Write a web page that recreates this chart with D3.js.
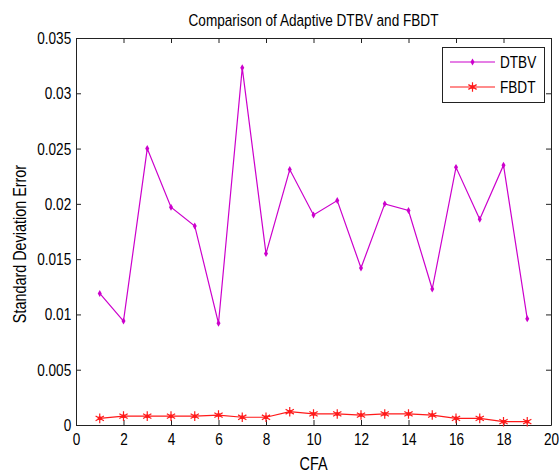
<!DOCTYPE html>
<html>
<head>
<meta charset="utf-8">
<script src="https://cdn.jsdelivr.net/npm/d3@7"></script>
<style>
  html, body { margin: 0; padding: 0; background: #fff; }
  svg text { font-family: "Liberation Sans", Arial, sans-serif; fill: #000; }
</style>
</head>
<body>
<svg id="chart" width="559" height="476"></svg>
<script>
// CFA index along the x axis
const cfa = [1, 2, 3, 4, 5, 6, 7, 8, 9, 10, 11, 12, 13, 14, 15, 16, 17, 18, 19];
// Standard deviation error for each method
const dtbv = [0.0119, 0.0094, 0.0250, 0.0197, 0.0180, 0.0092, 0.0323, 0.0155, 0.0231, 0.0190,
              0.0203, 0.0142, 0.0200, 0.0194, 0.0123, 0.0233, 0.0186, 0.0235, 0.0096];
const fbdt = [0.0006, 0.0008, 0.0008, 0.0008, 0.0008, 0.0009, 0.0007, 0.0007, 0.0012, 0.0010,
              0.0010, 0.0009, 0.0010, 0.0010, 0.0009, 0.0006, 0.0006, 0.0003, 0.0003];
const xTicks = [0, 2, 4, 6, 8, 10, 12, 14, 16, 18, 20];
const yTicks = [0, 0.005, 0.01, 0.015, 0.02, 0.025, 0.03, 0.035];
const seriesNames = ["DTBV", "FBDT"];

const svg = d3.select("#chart");
const plot = { left: 76, top: 38, right: 551, bottom: 425 };

const x = d3.scaleLinear().domain([0, 20]).range([plot.left, plot.right]);
const y = d3.scaleLinear().domain([0, 0.035]).range([plot.bottom, plot.top]);

const axisColor = "#222";
const squeeze = 0.8; // condensed lettering
const yFmt = d => d === 0 ? "0" : String(+d.toFixed(3));

// Condensed text placed at (px, py)
function narrowText(sel, px, py, str, size, anchor, rot) {
  return sel.append("text")
    .attr("transform", `translate(${px},${py})${rot ? ` rotate(${rot})` : ""} scale(${squeeze},1)`)
    .attr("text-anchor", anchor).attr("font-size", size).text(str);
}

// Axes with inward ticks, box on all four sides
const gBottom = svg.append("g").attr("transform", `translate(0,${plot.bottom})`)
  .call(d3.axisBottom(x).tickValues(xTicks).tickSizeInner(-5).tickSizeOuter(0).tickPadding(8));
const gTop = svg.append("g").attr("transform", `translate(0,${plot.top})`)
  .call(d3.axisTop(x).tickValues(xTicks).tickSizeInner(-5).tickSizeOuter(0).tickFormat(""));
const gLeft = svg.append("g").attr("transform", `translate(${plot.left},0)`)
  .call(d3.axisLeft(y).tickValues(yTicks).tickSizeInner(-5).tickSizeOuter(0).tickPadding(6).tickFormat(yFmt));
const gRight = svg.append("g").attr("transform", `translate(${plot.right},0)`)
  .call(d3.axisRight(y).tickValues(yTicks).tickSizeInner(-5).tickSizeOuter(0).tickFormat(""));

[gBottom, gTop, gLeft, gRight].forEach(g => {
  g.select(".domain").attr("stroke", axisColor).attr("stroke-width", 1);
  g.selectAll(".tick line").attr("stroke", axisColor);
  g.selectAll("text").attr("font-size", 17)
    .attr("font-family", "'Liberation Sans', Arial, sans-serif")
    .attr("transform", `scale(${squeeze},1)`);
});

// Title and axis labels
narrowText(svg, (plot.left + plot.right) / 2, 26, "Comparison of Adaptive DTBV and FBDT", 17, "middle");
narrowText(svg, (plot.left + plot.right) / 2, 470, "CFA", 18, "middle");
narrowText(svg, 26, 244, "Standard Deviation Error", 18, "middle", -90);

const line = d3.line().x((d, i) => x(cfa[i])).y(d => y(d));
const colors = { DTBV: "#cc00cc", FBDT: "#ff1a1a" };

// DTBV series: line with small dot markers
svg.append("path").datum(dtbv).attr("d", line)
  .attr("fill", "none").attr("stroke", colors.DTBV).attr("stroke-width", 1.2);
const dotSym = d3.symbol().type(d3.symbolDiamond).size(14);
svg.append("g").selectAll("path").data(dtbv).join("path")
  .attr("transform", (d, i) => `translate(${x(cfa[i])},${y(d)})`)
  .attr("d", dotSym).attr("fill", colors.DTBV);

// FBDT series: line with asterisk markers
svg.append("path").datum(fbdt).attr("d", line)
  .attr("fill", "none").attr("stroke", colors.FBDT).attr("stroke-width", 1.2);
const starSym = d3.symbol().type(d3.symbolAsterisk).size(64);
const fbdtMarks = svg.append("g").selectAll("g").data(fbdt).join("g")
  .attr("transform", (d, i) => `translate(${x(cfa[i])},${y(d)})`);
fbdtMarks.append("path").attr("d", starSym).attr("fill", "none")
  .attr("stroke", colors.FBDT).attr("stroke-width", 1.2);
fbdtMarks.append("circle").attr("r", 2).attr("fill", colors.FBDT);

// Legend
const leg = svg.append("g");
leg.append("rect").attr("x", 442.5).attr("y", 47.5).attr("width", 102).attr("height", 55)
  .attr("fill", "#fff").attr("stroke", axisColor).attr("stroke-width", 1);
seriesNames.forEach((name, i) => {
  const ly = 62 + i * 25;
  leg.append("line").attr("x1", 450).attr("x2", 495).attr("y1", ly).attr("y2", ly)
    .attr("stroke", colors[name]).attr("stroke-width", 1.2);
  if (name === "DTBV") {
    leg.append("path").attr("transform", `translate(472.5,${ly})`).attr("d", dotSym).attr("fill", colors[name]);
  } else {
    leg.append("path").attr("transform", `translate(472.5,${ly})`).attr("d", starSym)
      .attr("fill", "none").attr("stroke", colors[name]).attr("stroke-width", 1.2);
    leg.append("circle").attr("cx", 472.5).attr("cy", ly).attr("r", 2).attr("fill", colors[name]);
  }
  narrowText(leg, 500, ly + 6, name, 17, "start");
});
</script>
</body>
</html>
